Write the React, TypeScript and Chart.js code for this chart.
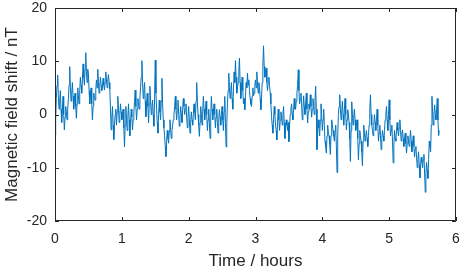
import React, { useEffect, useRef } from "react";
import { Chart, registerables } from "chart.js";

Chart.register(...registerables);

const TIME_STEP_HOURS = 0.01;

const fieldShift: number[] = [
  -4, -1, 3, 5.5, 7.4, 3.5, 1, 2.5, 4.5, 1,
  -1.5, 0.5, 3.4, 0, -2.9, -0.5, 1.5, 0.5, -1, 1,
  3, 5.5, 9, 5, 2.5, 4, 6, 3.5, 1, 2.5,
  4, 1.5, -0.7, 2, 5, 3.5, 2, 4.5, 7, 5.5,
  4, 6.5, 9.5, 7, 5.5, 8.5, 11.6, 8, 6, 8.5,
  7.7, 4.5, 2, 3.5, 5, 2, -1, 1.5, 4, 3,
  2.7, 4.5, 6.5, 5, 8.5, 6, 4, 5.5, 7, 5.5,
  4.5, 5.5, 6.8, 5.5, 4.6, 6, 8, 6.5, 5, 6.5,
  7.5, 6, 4.8, 1, -2.9, -0.5, 1.5, -2, -4.7, -2,
  0, 1, -2, 0.5, 3.4, 1, -1.5, 0, 2, 0.5,
  -1, 0, 1, -2.5, -6.1, -2, 1.5, -1, -3, -0.5,
  2, -1, -4, -1.5, 1, -0.5, -2.9, -1, 0.5, 2.5,
  4.6, 1.5, -1, 1, 3, 2, 1, 3, 5, 7,
  10.1, 6, 3, 4.5, 6, 2.5, -0.4, 2, 4, 1.5,
  -1.6, 2, 5.3, 2.5, 0, 1.5, 2.7, 0, -2.2, 3,
  10.2, 4, 1, -1.5, -3.5, 0, 2.7, 0.5, -1, 2.5,
  6.8, 2, -1, -2.5, -4, -6, -7.9, -5, -3, -4.5,
  -5.4, -3, -1, -3, -4.5, -3, -2, -1, 0, 1.5,
  3.4, 1, -1, 1, 2.7, 0, -2.2, -0.5, 1.5, 0,
  -1.5, 1, 3, 1.5, 0, 1, 2, -0.5, -2.5, -0.5,
  1.5, -1, -3.5, -1.5, 0.5, -1, -2, 0, 2, 0.5,
  -1, 2.5, 6, 2.5, 0, -2, -4.1, -1.5, 1.5, 0,
  -2, 0.5, 3.4, 1, -1, 0.5, 2.5, 0, -3, -1,
  1, -1.5, -4.5, -0.5, 3.4, 1, -1, 0.5, 2, 0,
  -2.5, -0.5, 1, -1.5, -3.5, -1, 0.9, -0.5, -2, 0,
  1.5, -1, -3, 0.5, 3.4, -1.5, -6.1, -2, 2, 4.5,
  7.75, 5, 3, 4.5, 6, 3, 1, 4.5, 8, 6,
  10.1, 7, 4, 5, 6, 8, 10.6, 6, 3, 5,
  7, 4.5, 2, 3, 0.9, 3.5, 6, 5, 7.75, 5.5,
  6.5, 4.5, 3, 2, 1.5, 3.5, 5, 3.5, 4, 5.5,
  6.5, 5, 8, 6, 4, 6, 5, 3, 0.9, 3,
  6, 9, 12.9, 9, 7, 7.5, 8.7, 6, 4.5, 6,
  7, 5.5, 4, 2, -0.4, -2, -3.5, -1, 1.5, 0,
  -2, -3, -4.75, -1.5, 1, -1, -3, -1, 0.5, -0.5,
  -2, 0, 1.5, -1.5, -4.5, -2.5, -1, -2, -3, -1.5,
  -5.1, -2, 0, 1, 2, 0, -1, 1, 3, 1,
  1, 2.5, 4, 5.5, 8.4, 4.5, 2, 3, 4, 2,
  -1, 1, 3.5, 1.5, 0, 2, 4, 1, -1.6, 0.5,
  2, 1, 3.7, 1.5, -0.5, 1, 3, 1.5, 0, 2.5,
  5.3, 1, -6.6, -3, -1, -2.5, -4, -1, 2, 0,
  -3, -1, 1, -2, -5, -6, -7.25, -4, -2, -3.5,
  -4, -5.5, -7.5, -4, -1, -2, -3, -4, -5, -3,
  -2, -6, -10.9, -4, 0, 1.5, 3.7, 1, -1, 0.5,
  2.5, 0, -2, 1, 3, 0, -2.9, -1, 0.9, 0,
  -1.5, -4.5, -8.8, -3, 2.4, 0, -2, -0.5, 1, -1,
  -3, -2, -1, -4.5, -8.5, -5.5, -3, -4, -5, -7,
  -9.6, -5, -2, -3.5, -5, -4, -3, -4.5, -6, -4,
  -2, 1, 3.7, 0, -2, -3, -4, -2, 0, -1.5,
  -3, -1, 1, -2, -5, -3.5, -2, -4, -6.6, -4.5,
  -3, -4, -5, -3, -1, 0, 1.5, -1, -3, 0,
  2.75, -1, -4, -3, -2, -5, -9.1, -6, -3, -4.5,
  -5, -3, -1.5, -3, -4, -2.5, -1, -3, -5, -3.5,
  -2.9, -4.5, -6, -4.5, -3.5, -5.5, -7.25, -5.5, -4, -5,
  -6, -4.5, -3, -5, -7, -5.5, -4, -6, -8, -6.5,
  -6, -8, -10, -8.5, -7, -9.5, -11.9, -9.5, -8, -9,
  -10, -8.5, -7.5, -11, -14.6, -11, -9, -10.5, -12, -8.5,
  -5, -6, -7, -2, 3.4, 0.5, -2, 0, 1.8, 0,
  -1, 1, 3, -1, -4, -3,
];

const timeHours: number[] = fieldShift.map((_, i) => +(i * TIME_STEP_HOURS).toFixed(2));

const xTicks: number[] = [0, 1, 2, 3, 4, 5, 6];
const yTicks: number[] = [-20, -10, 0, 10, 20];

const AXIS_COLOR = "#262626";
const LINE_COLOR = "#0072BD";
const FONT = "'Liberation Sans', Arial, Helvetica, sans-serif";

const boxPlugin = {
  id: "matlabBox",
  afterDraw(chart: any) {
    const { ctx, chartArea } = chart;
    const xs = chart.scales.x;
    const ys = chart.scales.y;
    const tl = 4;
    ctx.save();
    ctx.strokeStyle = AXIS_COLOR;
    ctx.lineWidth = 1;
    ctx.beginPath();
    ctx.rect(chartArea.left + 0.5, chartArea.top + 0.5, chartArea.right - chartArea.left - 1, chartArea.bottom - chartArea.top - 1);
    for (const v of xTicks) {
      const px = Math.round(xs.getPixelForValue(v)) + 0.5;
      ctx.moveTo(px, chartArea.bottom);
      ctx.lineTo(px, chartArea.bottom - tl);
      ctx.moveTo(px, chartArea.top);
      ctx.lineTo(px, chartArea.top + tl);
    }
    for (const v of yTicks) {
      const py = Math.round(ys.getPixelForValue(v)) + 0.5;
      ctx.moveTo(chartArea.left, py);
      ctx.lineTo(chartArea.left + tl, py);
      ctx.moveTo(chartArea.right, py);
      ctx.lineTo(chartArea.right - tl, py);
    }
    ctx.stroke();
    ctx.restore();
  },
};

export default function App() {
  const ref = useRef<HTMLCanvasElement | null>(null);
  useEffect(() => {
    document.body.style.margin = "0";
    const canvas = ref.current;
    if (!canvas) return;
    const chart = new Chart(canvas, {
      type: "line",
      data: {
        datasets: [
          {
            data: timeHours.map((t, i) => ({ x: t, y: fieldShift[i] })),
            borderColor: LINE_COLOR,
            borderWidth: 1,
            pointRadius: 0,
            tension: 0,
            fill: false,
          },
        ],
      },
      options: {
        animation: false,
        responsive: false,
        maintainAspectRatio: false,
        layout: { padding: { top: 8, right: 8, left: 0, bottom: 0 } },
        plugins: { legend: { display: false }, tooltip: { enabled: false } },
        scales: {
          x: {
            type: "linear",
            min: 0,
            max: 6,
            afterBuildTicks(scale: any) {
              scale.ticks = xTicks.map((v) => ({ value: v }));
            },
            afterFit(scale: any) {
              scale.height = 52;
              scale.paddingLeft = 0;
              scale.paddingRight = 0;
            },
            grid: { display: true, drawOnChartArea: false, drawTicks: false },
            border: { display: false },
            ticks: {
              color: AXIS_COLOR,
              font: { family: FONT, size: 14 },
              padding: 10,
              maxRotation: 0,
            },
            title: {
              display: true,
              text: "Time / hours",
              color: AXIS_COLOR,
              font: { family: FONT, size: 17 },
              padding: { top: 0, bottom: 1 },
            },
          },
          y: {
            type: "linear",
            min: -20,
            max: 20,
            afterBuildTicks(scale: any) {
              scale.ticks = yTicks.map((v) => ({ value: v }));
            },
            afterFit(scale: any) {
              scale.width = 55;
              scale.paddingTop = 0;
              scale.paddingBottom = 0;
            },
            grid: { display: true, drawOnChartArea: false, drawTicks: false },
            border: { display: false },
            ticks: {
              color: AXIS_COLOR,
              font: { family: FONT, size: 14 },
              padding: 8,
            },
            title: {
              display: true,
              text: "Magnetic field shift / nT",
              color: AXIS_COLOR,
              font: { family: FONT, size: 17 },
              padding: { top: 2, bottom: 0 },
            },
          },
        },
      },
      plugins: [boxPlugin],
    });
    return () => chart.destroy();
  }, []);
  return (
    <div style={{ width: 464, height: 273 }}>
      <canvas ref={ref} width={464} height={273} style={{ display: "block", width: 464, height: 273 }} />
    </div>
  );
}
